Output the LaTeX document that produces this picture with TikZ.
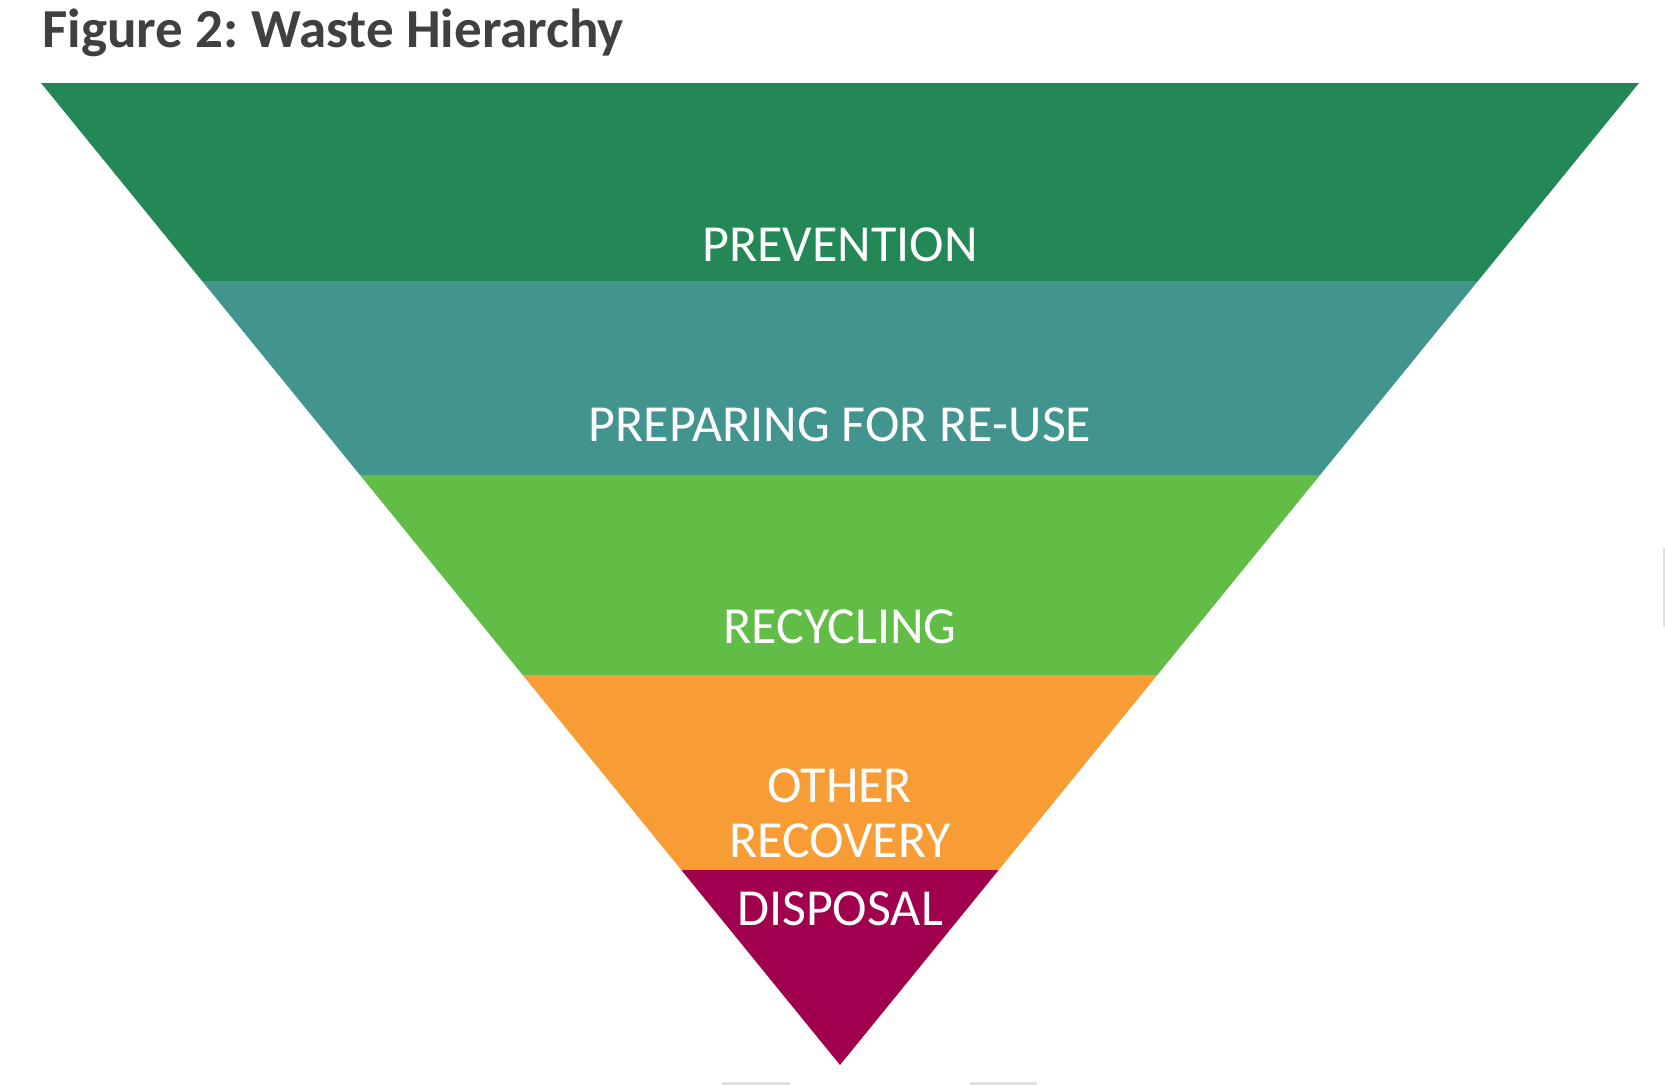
\documentclass[tikz,border=0pt]{standalone}
\usepackage{fontspec}
\setmainfont{Carlito}
\frenchspacing
\definecolor{cPrev}{RGB}{35,136,85}
\definecolor{cReuse}{RGB}{66,148,143}
\definecolor{cRecy}{RGB}{98,189,71}
\definecolor{cOther}{RGB}{248,157,53}
\definecolor{cDisp}{RGB}{160,0,77}
\definecolor{cTitle}{RGB}{64,64,66}
\begin{document}
\begin{tikzpicture}[x=0.5pt,y=-0.5pt,
  lbl/.style={text=white,font=\fontsize{26}{27.5}\selectfont,inner sep=0pt,align=center},
  ttl/.style={text=cTitle,font=\bfseries\fontsize{27.5}{30}\selectfont,inner sep=0pt,anchor=base west}]
\useasboundingbox (0,0) rectangle (1665,1085);
\fill[white] (0,0) rectangle (1665,1085);
\begin{scope}
  \clip (41,83) -- (1639,83) -- (840,1065) -- cycle;
  \fill[cPrev]  (0,83)  rectangle (1665,281);
  \fill[cReuse] (0,281) rectangle (1665,475);
  \fill[cRecy]  (0,475) rectangle (1665,675);
  \fill[cOther] (0,675) rectangle (1665,870);
  \fill[cDisp]  (0,870) rectangle (1665,1066);
\end{scope}
\node[ttl] (title) at (42,48) {Figure 2: Waste Hierarchy};
\node[lbl] (prev)  at (840,245) {PREVENTION};
\node[lbl] (reuse) at (840,425) {PREPARING FOR RE-USE};
\node[lbl] (recy)  at (840,627) {RECYCLING};
\node[lbl] (other) at (840,813) {OTHER\\RECOVERY};
\node[lbl] (disp)  at (840,909) {DISPOSAL};
% faint scan marks
\draw[black!12,line width=1.5pt] (722,1083) -- (790,1083);
\draw[black!12,line width=1.5pt] (970,1083) -- (1037,1083);
\draw[black!12,line width=1.5pt] (1664,548) -- (1664,627);
\end{tikzpicture}
\end{document}
